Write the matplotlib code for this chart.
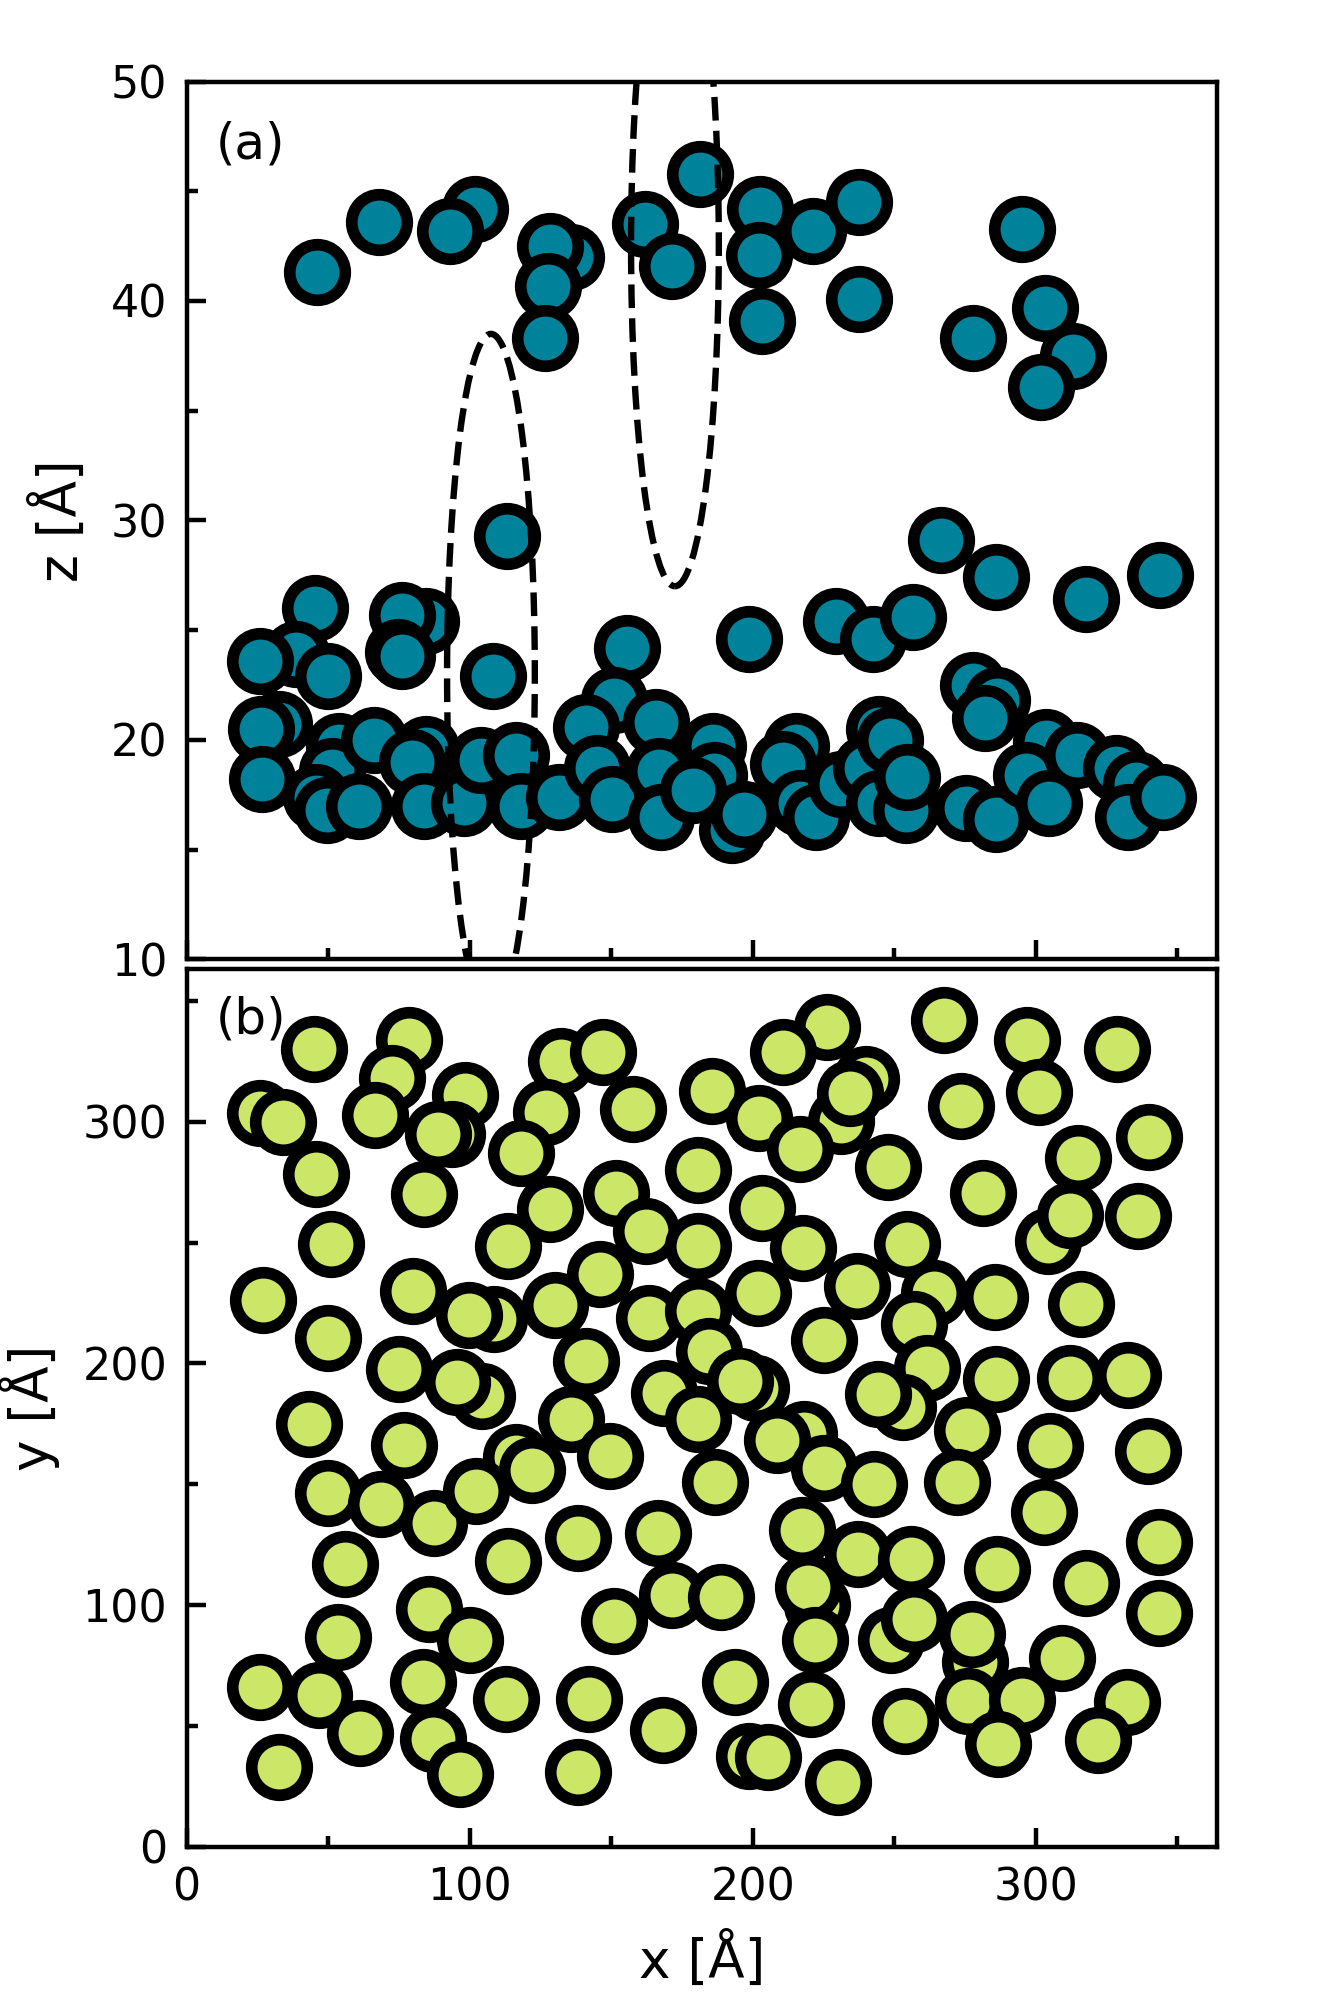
import numpy as np
import matplotlib
matplotlib.use('Agg')
import matplotlib.pyplot as plt
from matplotlib.patches import Ellipse
from matplotlib.ticker import MultipleLocator

# panel (a): x-z projection
xa = [46.2, 67.9, 101.8, 93.2, 135.7, 128.5, 127.6, 126.7, 162.0, 171.5, 181.4,
      202.7, 202.3, 203.2, 221.3, 237.6, 237.6, 277.8, 295.0, 303.2, 313.1, 301.8,
      113.1, 266.5, 286.0, 343.9, 317.6, 229.4, 242.5, 256.6, 198.6, 155.7,
      45.2, 38.5, 25.8, 49.8, 84.6, 76.0, 74.5, 76.0, 108.1, 151.1, 277.8, 286.4, 281.9,
      32.7, 26.2, 26.7, 53.9, 51.4, 45.6, 49.6, 60.9, 66.2, 84.5, 79.6, 83.9, 98.0,
      103.9, 116.3, 118.1, 131.6, 141.0, 165.8, 145.1, 150.4, 166.9, 167.5,
      185.8, 186.4, 178.7, 192.8, 197.0, 215.2, 210.5, 216.5, 222.3, 231.0,
      244.7, 240.0, 244.7, 248.5, 254.1, 254.6, 275.2, 285.9, 303.6, 296.5, 304.7,
      314.7, 328.3, 335.4, 332.4, 345.0]
za = [41.3, 43.6, 44.2, 43.2, 42.0, 42.5, 40.7, 38.3, 43.5, 41.6, 45.8,
      44.2, 42.1, 39.1, 43.2, 44.5, 40.1, 38.3, 43.3, 39.7, 37.5, 36.1,
      29.3, 29.1, 27.4, 27.5, 26.4, 25.4, 24.6, 25.6, 24.6, 24.2,
      26.0, 23.9, 23.6, 22.9, 25.4, 25.7, 24.0, 23.8, 22.9, 21.8, 22.5, 21.8, 21.0,
      20.7, 20.5, 18.2, 19.7, 18.6, 17.4, 16.8, 17.0, 20.0, 19.6, 19.0, 17.0, 17.1,
      19.1, 19.3, 17.0, 17.4, 20.6, 20.8, 18.7, 17.3, 18.6, 16.5,
      19.7, 18.4, 17.7, 15.9, 16.6, 19.7, 18.9, 17.1, 16.5, 18.0,
      20.5, 18.7, 17.1, 20.0, 16.8, 18.3, 16.9, 16.4, 19.9, 18.4, 17.1,
      19.3, 18.7, 18.0, 16.5, 17.4]

# panel (b): x-y projection
xb = [45.0, 78.6, 72.5, 66.6, 26.0, 34.0, 98.5, 93.9, 88.8, 45.6, 83.9,
      132.4, 147.1, 126.9, 157.8, 118.0, 185.6, 180.7, 151.7, 128.4, 162.1,
      50.9, 113.4, 180.7, 146.1, 27.0, 79.8, 108.6, 99.8, 130.2, 163.2, 180.7,
      49.9, 141.0, 184.4, 74.9, 104.3, 95.5, 168.5, 180.7, 135.8, 43.2, 76.8,
      116.5, 122.0, 149.5, 186.6, 49.9, 68.8, 87.5, 102.1, 138.3, 166.4, 56.0,
      113.4, 171.5, 188.6, 151.1, 85.6, 100.0, 53.5, 26.0, 46.8, 83.5, 112.8,
      142.2, 193.7, 61.1, 87.2, 96.7, 32.8, 138.3, 168.2,
      226.1, 210.7, 202.2, 231.3, 216.8, 239.9, 234.4, 267.4, 297.0, 301.2, 328.8,
      273.5, 247.8, 340.1, 314.9, 203.4, 281.2, 304.3, 312.2, 336.1, 217.6, 254.4,
      201.8, 236.9, 263.9, 285.4, 316.0, 256.9, 225.0, 201.0, 195.5, 261.5,
      253.2, 244.4, 286.0, 311.9, 332.6,
      218.0, 208.5, 275.7, 304.9, 339.5, 225.0, 242.9, 272.0, 302.7, 217.4,
      237.1, 256.0, 286.3, 343.5, 317.6, 222.8, 219.4, 222.0, 248.7, 257.1,
      278.4, 277.3, 343.5, 309.4, 220.4, 253.8, 276.1, 295.1, 286.6, 332.2,
      322.1, 198.5, 205.2, 230.1]
yb = [330.2, 333.7, 318.2, 302.8, 303.7, 300.0, 311.0, 294.8, 295.0, 278.5, 270.2,
      325.1, 328.9, 304.1, 305.4, 287.2, 312.7, 280.0, 270.7, 264.0, 254.8,
      249.3, 248.6, 248.6, 237.2, 226.2, 230.0, 218.3, 220.1, 224.1, 219.0, 221.5,
      210.7, 201.1, 205.2, 197.8, 186.6, 192.3, 187.6, 177.0, 177.0, 175.0, 166.2,
      161.3, 156.1, 161.6, 151.0, 146.4, 141.7, 134.0, 147.1, 127.9, 130.0, 116.9,
      118.1, 104.4, 103.5, 93.6, 98.5, 85.6, 86.7, 66.3, 62.8, 68.1, 61.2,
      61.2, 68.1, 47.1, 44.6, 30.1, 32.9, 31.1, 48.5,
      339.1, 328.9, 301.7, 300.3, 288.6, 317.5, 312.0, 342.0, 333.6, 312.4, 330.2,
      306.5, 281.4, 293.7, 285.1, 264.5, 270.7, 250.7, 261.4, 261.0, 247.9, 249.6,
      229.3, 232.1, 229.3, 227.3, 224.8, 216.3, 209.8, 190.0, 192.8, 198.1,
      181.8, 187.3, 193.5, 193.9, 195.2,
      171.0, 168.5, 172.4, 166.0, 164.0, 156.9, 150.3, 151.0, 138.5, 131.2,
      121.0, 119.2, 115.1, 126.1, 109.3, 99.9, 107.5, 85.6, 85.6, 94.3,
      76.4, 88.1, 96.7, 78.2, 59.1, 52.2, 60.5, 60.8, 42.5, 59.8,
      44.2, 37.7, 37.3, 26.9]

# circled regions in (a): centre x, centre z, diameter
ell_x = [107.5, 172.5]
ell_z = [23.0, 42.5]
ell_d = [31.0, 31.0]

teal = '#00839a'
lime = '#cce667'
ms = 10
mew = 2.1

fig = plt.figure(figsize=(3.3, 5), dpi=400)
ax1 = fig.add_axes([0.1414, 0.5204, 0.7806, 0.4388])
ax2 = fig.add_axes([0.1414, 0.0765, 0.7806, 0.4388])

ax1.plot(xa, za, 'o', ms=ms, mfc=teal, mec='black', mew=mew, ls='none')
for cx, cz, d in zip(ell_x, ell_z, ell_d):
    ax1.add_patch(Ellipse((cx, cz), d, d, fill=False, ls='--', lw=1.15,
                          ec='black', zorder=3))
ax1.set_xlim(0, 364)
ax1.set_ylim(10, 50)
ax1.set_ylabel('z [Å]', fontsize=9.6)
ax1.xaxis.set_major_locator(MultipleLocator(100))
ax1.xaxis.set_minor_locator(MultipleLocator(50))
ax1.yaxis.set_major_locator(MultipleLocator(10))
ax1.yaxis.set_minor_locator(MultipleLocator(5))
ax1.tick_params(labelbottom=False)
ax1.text(0.028, 0.928, '(a)', transform=ax1.transAxes, fontsize=9, va='center')

ax2.plot(xb, yb, 'o', ms=ms, mfc=lime, mec='black', mew=mew, ls='none')
ax2.set_xlim(0, 364)
ax2.set_ylim(0, 363)
ax2.set_xlabel('x [Å]', fontsize=9.6)
ax2.set_ylabel('y [Å]', fontsize=9.6)
ax2.xaxis.set_major_locator(MultipleLocator(100))
ax2.xaxis.set_minor_locator(MultipleLocator(50))
ax2.yaxis.set_major_locator(MultipleLocator(100))
ax2.yaxis.set_minor_locator(MultipleLocator(50))
ax2.text(0.028, 0.943, '(b)', transform=ax2.transAxes, fontsize=9, va='center')

for ax in (ax1, ax2):
    for s in ax.spines.values():
        s.set_linewidth(0.8)
    ax.tick_params(which='both', direction='in', top=False, right=False,
                   labelsize=8, width=0.8)
    ax.tick_params(which='major', length=3.5)
    ax.tick_params(which='minor', length=2)

plt.savefig('out.png', dpi=400)
